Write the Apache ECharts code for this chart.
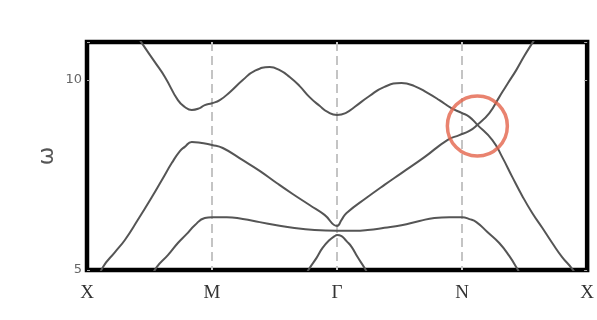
<!DOCTYPE html>
<html>
<head>
<meta charset="utf-8">
<script src="https://cdn.jsdelivr.net/npm/echarts@6/dist/echarts.min.js"></script>
<style>html,body{margin:0;padding:0;background:#fff;}#c{width:597px;height:320px;}</style>
</head>
<body>
<div id="c"></div>
<script>
// k-path tick labels (positions 0..4)
const tickLabels = ['X', 'M', 'Γ', 'N', 'X'];
const yTicks = [5, 10];

// Band A (upper band)
const bandA = [
  [0.319,11.58],[0.439,10.97],[0.543,10.47],[0.623,10.08],[0.727,9.47],[0.782,9.29],[0.838,9.21],
  [0.902,9.26],[0.942,9.34],[1.0,9.39],[1.062,9.47],[1.142,9.68],[1.246,10.0],[1.341,10.24],
  [1.461,10.34],[1.541,10.26],[1.621,10.08],[1.701,9.84],[1.780,9.55],[1.860,9.32],[1.924,9.16],
  [2.0,9.08],[2.068,9.13],[2.140,9.29],[2.259,9.58],[2.379,9.82],[2.515,9.92],[2.619,9.84],
  [2.723,9.66],[2.818,9.47],[2.914,9.26],[3.0,9.13],[3.058,9.03],[3.122,8.82],[3.242,8.42],
  [3.321,7.97],[3.401,7.45],[3.481,6.95],[3.561,6.5],[3.641,6.11],[3.721,5.71],[3.800,5.34],
  [3.880,5.03],[3.936,4.74]
];
// Band B (X -> M -> Γ, then up through N)
const bandB = [
  [0.088,4.74],[0.128,5.08],[0.224,5.47],[0.303,5.79],[0.407,6.32],[0.519,6.92],[0.599,7.37],
  [0.679,7.82],[0.743,8.13],[0.782,8.24],[0.838,8.37],[0.918,8.34],[1.0,8.29],[1.086,8.21],
  [1.246,7.89],[1.381,7.61],[1.517,7.29],[1.645,7.0],[1.780,6.71],[1.900,6.45],[2.0,6.16],
  [2.036,6.32],[2.076,6.5],[2.244,6.92],[2.379,7.24],[2.515,7.55],[2.699,7.97],[2.882,8.42],
  [2.978,8.55],[3.058,8.66],[3.122,8.82],[3.218,9.13],[3.297,9.55],[3.361,9.89],[3.433,10.26],
  [3.497,10.63],[3.561,10.97],[3.617,11.26]
];
// Band C (lower flat band)
const bandC = [
  [0.503,4.74],[0.559,5.08],[0.647,5.39],[0.727,5.71],[0.798,5.95],[0.862,6.18],[0.942,6.37],
  [1.0,6.39],[1.118,6.39],[1.246,6.34],[1.381,6.26],[1.517,6.18],[1.645,6.11],[1.820,6.05],
  [2.0,6.03],[2.140,6.03],[2.244,6.05],[2.379,6.11],[2.515,6.18],[2.659,6.29],[2.778,6.37],
  [2.898,6.39],[3.0,6.39],[3.058,6.34],[3.114,6.26],[3.202,6.0],[3.297,5.71],[3.377,5.37],
  [3.441,5.03],[3.481,4.79]
];
// Band D (lowest cone at Γ)
const bandD = [
  [1.740,4.82],[1.780,5.05],[1.836,5.32],[1.884,5.58],[1.940,5.79],[1.980,5.89],[2.0,5.92],
  [2.036,5.89],[2.076,5.76],[2.116,5.61],[2.164,5.34],[2.220,5.05],[2.259,4.82]
];
// highlighted crossing
const crossing = [[3.122, 8.79]];

const lineStyle = {color: '#555', width: 2};
function band(d) {
  return {type: 'line', data: d, smooth: 0.5, symbol: 'none', lineStyle: lineStyle, clip: true, silent: true};
}

const chart = echarts.init(document.getElementById('c'), null, {renderer: 'canvas'});
chart.setOption({
  animation: false,
  backgroundColor: '#fff',
  grid: {left: 87, right: 9, top: 42, bottom: 50, show: true, borderColor: '#000', borderWidth: 4.5, backgroundColor: 'transparent'},
  xAxis: {
    type: 'value', min: 0, max: 4, interval: 1,
    axisLine: {show: false}, axisTick: {show: false},
    axisLabel: {
      formatter: v => tickLabels[Math.round(v)] || '',
      fontFamily: 'Liberation Serif, DejaVu Serif, serif', fontSize: 19, color: '#333', margin: 14
    },
    splitLine: {show: true, showMinLine: false, showMaxLine: false, lineStyle: {color: '#c4c4c4', width: 2, type: [9, 5]}}
  },
  yAxis: [{
    type: 'value', min: 5, max: 11, interval: 5,
    name: 'ω', nameLocation: 'middle', nameGap: 29, nameRotate: 90, nameMoveOverlap: false,
    nameTextStyle: {fontSize: 22, color: '#555', fontFamily: 'DejaVu Sans, sans-serif'},
    axisLine: {show: false},
    axisTick: {show: true, inside: true, length: 3, lineStyle: {color: '#aaa', width: 1}},
    axisLabel: {formatter: v => yTicks.includes(v) ? String(v) : '', fontSize: 13, color: '#666', margin: 5, fontFamily: 'DejaVu Sans, sans-serif'},
    splitLine: {show: false}
  }, {
    type: 'value', min: 5, max: 11, interval: 5, position: 'right',
    axisLine: {show: false},
    axisTick: {show: true, inside: true, length: 3, lineStyle: {color: '#aaa', width: 1}},
    axisLabel: {show: false}, splitLine: {show: false}
  }],
  series: [
    band(bandA), band(bandB), band(bandC), band(bandD),
    {type: 'scatter', data: crossing, symbol: 'circle', symbolSize: 60, silent: true, z: 5,
     itemStyle: {color: 'rgba(0,0,0,0)', borderColor: '#e4644b', borderWidth: 3.5}}
  ]
});
</script>
</body>
</html>
